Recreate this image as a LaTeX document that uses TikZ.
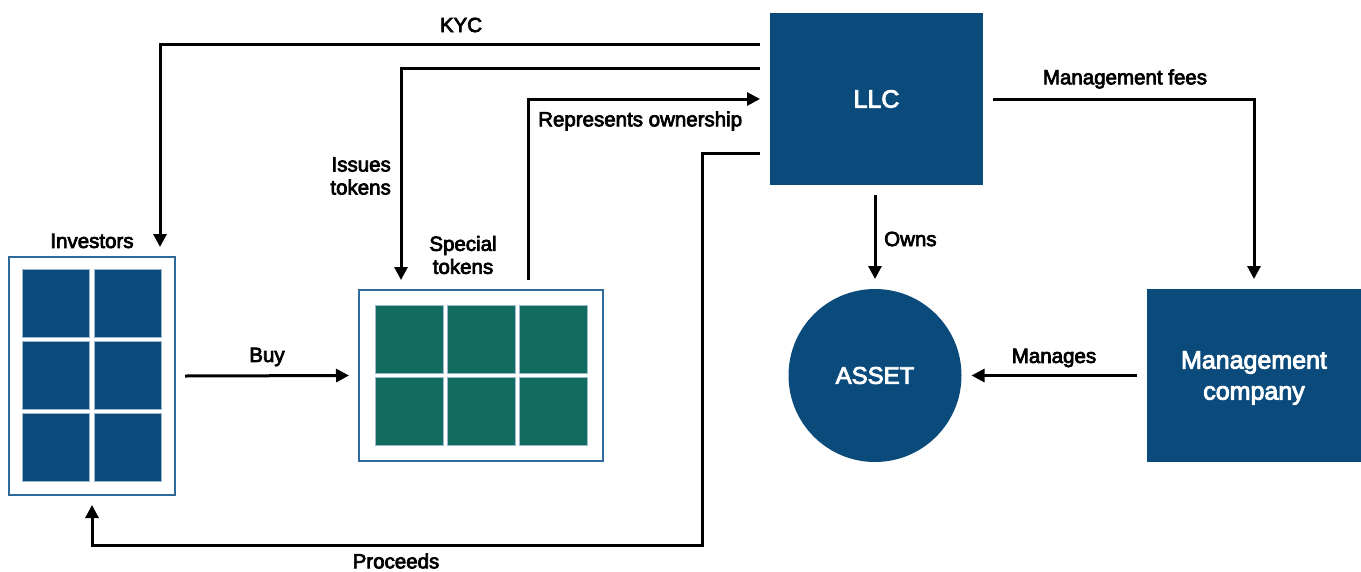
\documentclass[tikz,border=0pt]{standalone}
\usepackage{fontspec}
\setmainfont{Liberation Sans}
\newfontfamily\lblfont{Liberation Sans}[FakeBold=3.5]
\usetikzlibrary{arrows.meta,calc}
\definecolor{navy}{HTML}{0B4B7C}
\definecolor{teal}{HTML}{116B61}
\definecolor{frame}{HTML}{2E6A9C}
\definecolor{sqedge}{HTML}{9DB8CF}
\begin{document}
\begin{tikzpicture}[x=1pt,y=-1pt,
  box/.style={draw=frame,line width=1.6pt,fill=white,inner sep=0pt,outer sep=10pt},
  solid box/.style={fill=navy,inner sep=0pt,outer sep=10pt,text=white,align=center,
    font=\lblfont\fontsize{25}{31}\selectfont},
  sqn/.style={fill=navy,draw=sqedge,line width=0.6pt,minimum width=67pt,minimum height=68pt,inner sep=0pt},
  sqt/.style={fill=teal,draw=sqedge,line width=0.6pt,minimum width=68pt,minimum height=68pt,inner sep=0pt},
  lbl/.style={font=\lblfont\fontsize{20.5}{23}\selectfont,inner sep=0pt},
  arr/.style={line width=3pt,-{Triangle[length=13pt,width=13pt]}}]
\useasboundingbox (0,0) rectangle (1361,571);
% main nodes
\node[box,minimum width=166pt,minimum height=238pt] (inv) at (92,376) {};
\node[box,minimum width=244pt,minimum height=171pt] (tok) at (481,375.5) {};
\node[solid box,minimum width=213pt,minimum height=172pt] (llc) at (876.5,99) {LLC};
\node[solid box,circle,minimum size=173pt,font=\lblfont\fontsize{24}{28}\selectfont] (asset) at (875,375.5) {ASSET};
\node[solid box,minimum width=214pt,minimum height=173pt,text depth=0pt] (mg) at (1254,375.5) {Management\\company};
% investor squares
\foreach \c/\x in {1/55.5,2/127.5}
  \foreach \r/\y in {1/303,2/375,3/447}
    \node[sqn] (inv\c\r) at (\x,\y) {};
% token squares
\foreach \c/\x in {1/409,2/481,3/553}
  \foreach \r/\y in {1/339,2/411}
    \node[sqt] (tok\c\r) at (\x,\y) {};
% connectors
\draw[arr] ($(llc.north west)+(0,41)$) -| ($(inv.north)+(68,0)$);
\draw[arr] ($(llc.north west)+(0,65)$) -| ($(tok.north)+(-80,0)$);
\draw[arr] ($(tok.north)+(47,0)$) |- (llc.west);
\coordinate (pc) at (702,545);
\draw[arr] ($(llc.south west)+(0,-42)$) -| (pc) -| (inv.south);
\draw[arr] (asset.north |- llc.south) -- (asset.north);
\draw[arr] (llc.east) -| (mg.north);
\draw[arr] (mg.west) -- (asset.east);
\draw[arr] (inv.east) -- (tok.west);
% labels
\node[lbl] (lkyc) at (461,25) {KYC};
\node[lbl,anchor=east,align=right] (liss) at (391,176) {Issues\\tokens};
\node[lbl,align=center] (lspec) at (463,255) {Special\\tokens};
\node[lbl,anchor=west] (lrep) at (538,121) {Represents ownership};
\node[lbl] (linv) at (92,241) {Investors};
\node[lbl] (lbuy) at (267,357) {Buy};
\node[lbl,anchor=west] (lown) at (884,239) {Owns};
\node[lbl] (lman) at (1054,358) {Manages};
\node[lbl] (lfee) at (1125,79) {Management fees};
\node[lbl] (lpro) at (396,561) {Proceeds};
\end{tikzpicture}
\end{document}
